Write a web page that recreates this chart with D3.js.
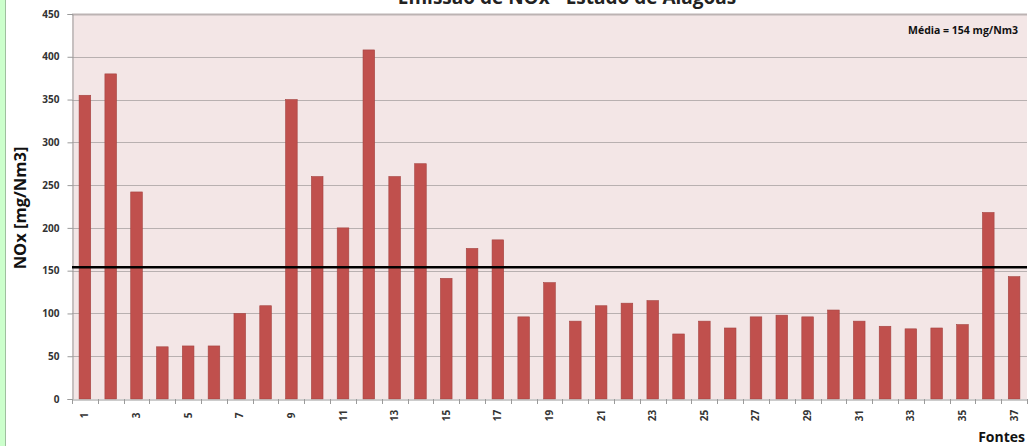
<!DOCTYPE html>
<html><head><meta charset="utf-8">
<script src="https://cdn.jsdelivr.net/npm/d3@7"></script>
<style>body{margin:0;background:#fff;}svg{display:block;font-family:"Open Sans","Liberation Sans",sans-serif;}</style>
</head><body>
<svg id="c" width="1029" height="446"></svg>
<script>
const categories = d3.range(1, 38).map(String);
const values = [355, 380, 242, 61, 62, 62, 100, 109, 350, 260, 200, 408, 260, 275, 141, 176, 186, 96, 136, 91, 109, 112, 115, 76, 91, 83, 96, 98, 96, 104, 91, 85, 82, 83, 87, 218, 143];
const meanValue = 154;
const yTicks = [0, 50, 100, 150, 200, 250, 300, 350, 400, 450];
const title = "Emissão de NOx - Estado de Alagoas";
const yTitle = "NOx [mg/Nm3]";
const xTitle = "Fontes";
const meanLabel = "Média = 154 mg/Nm3";

const svg = d3.select("#c");
const m = {l: 72, r: 1027, t: 14, b: 399};

svg.append("rect").attr("x", 0).attr("y", 0).attr("width", 5).attr("height", 446).attr("fill", "#ccffcc");
svg.append("line").attr("x1", 5.5).attr("x2", 5.5).attr("y1", 0).attr("y2", 446).attr("stroke", "#9fbf9f");

const x = d3.scaleBand().domain(categories).range([m.l, m.r]).paddingInner(0.55).paddingOuter(0.275);
const y = d3.scaleLinear().domain([0, 450]).range([m.b, m.t]);

svg.append("rect").attr("x", m.l).attr("y", m.t).attr("width", m.r - m.l).attr("height", m.b - m.t).attr("fill", "#f3e6e6");

svg.append("g").selectAll("line").data(yTicks.filter(d => d > 0)).join("line")
  .attr("x1", m.l).attr("x2", m.r).attr("y1", d => Math.round(y(d)) + 0.5).attr("y2", d => Math.round(y(d)) + 0.5)
  .attr("stroke", d => d === 450 ? "#bcb3b3" : "#b8b0b0").attr("stroke-width", d => d === 450 ? 2 : 1);

svg.append("text").attr("x", 567).attr("y", 4).attr("text-anchor", "middle")
  .attr("font-size", 19).attr("font-weight", "bold").attr("fill", "#222").text(title);

svg.append("g").selectAll("rect").data(values).join("rect")
  .attr("x", (d, i) => x(categories[i])).attr("width", x.bandwidth())
  .attr("y", d => y(d)).attr("height", d => y(0) - y(d))
  .attr("fill", "#c0504d").attr("stroke", "#a44340").attr("stroke-width", 0.6);

// y axis
const ya = svg.append("g").attr("transform", `translate(${m.l + 0.5},0)`)
  .call(d3.axisLeft(y).tickValues(yTicks).tickSize(5).tickPadding(8));
ya.select(".domain").attr("stroke", "#9a9a9a");
ya.selectAll(".tick line").attr("stroke", "#9a9a9a");
ya.selectAll("text").attr("font-size", 10).attr("font-weight", "bold").attr("fill", "#333").attr("font-family", "Open Sans, sans-serif");

// x axis
const xa = svg.append("g").attr("transform", `translate(0,${m.b + 0.5})`)
  .call(d3.axisBottom(x).tickSize(0).tickFormat(d => (+d % 2 === 1) ? d : ""));
xa.select(".domain").attr("stroke", "#9a9a9a");
xa.selectAll(".tick text").attr("transform", "rotate(-90)").attr("text-anchor", "middle")
  .attr("x", -16).attr("y", 0).attr("dy", "0.35em")
  .attr("font-size", 10).attr("font-weight", "bold").attr("fill", "#333").attr("font-family", "Open Sans, sans-serif");
const step = x.step();
const bounds = d3.range(0, categories.length + 1).map(i => m.l + i * step);
svg.append("g").selectAll("line").data(bounds).join("line")
  .attr("x1", d => Math.round(d) + 0.5).attr("x2", d => Math.round(d) + 0.5)
  .attr("y1", m.b).attr("y2", m.b + 5).attr("stroke", "#9a9a9a");

// mean line
svg.append("line").attr("x1", m.l).attr("x2", m.r).attr("y1", y(meanValue)).attr("y2", y(meanValue))
  .attr("stroke", "#000").attr("stroke-width", 2.5);

svg.append("text").attr("x", 1018).attr("y", 34).attr("text-anchor", "end")
  .attr("font-size", 10.5).attr("font-weight", "bold").attr("fill", "#111").text(meanLabel);

svg.append("text").attr("transform", "translate(26,208) rotate(-90)").attr("text-anchor", "middle")
  .attr("font-size", 16.5).attr("font-weight", "bold").attr("fill", "#111").text(yTitle);

svg.append("text").attr("x", 1025).attr("y", 442).attr("text-anchor", "end")
  .attr("font-size", 14).attr("font-weight", "bold").attr("fill", "#111").text(xTitle);
</script>
</body></html>
